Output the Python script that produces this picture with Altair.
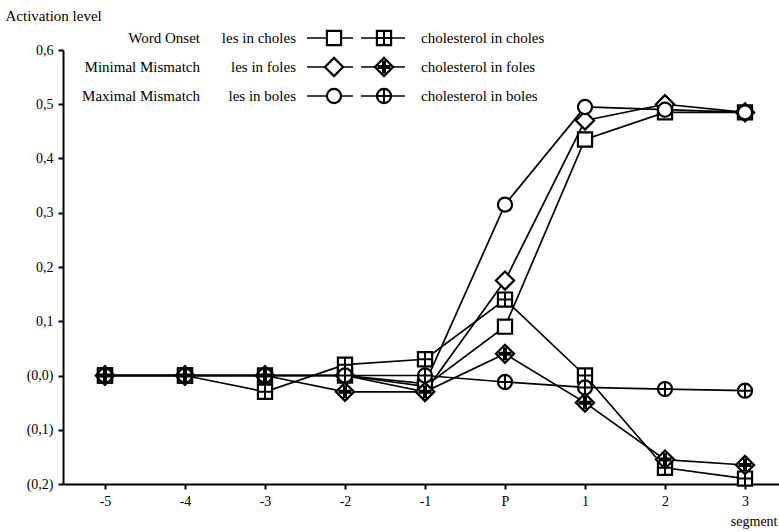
import altair as alt
import pandas as pd

segments = ["-5", "-4", "-3", "-2", "-1", "P", "1", "2", "3"]

series_names = ["les in choles", "les in foles", "les in boles",
                "cholesterol in choles", "cholesterol in foles", "cholesterol in boles"]
series_shapes = ["square", "diamond", "circle", "square", "diamond", "circle"]
series_crossed = [False, False, False, True, True, True]

les_choles = [0.0, 0.0, 0.0, 0.0, -0.02, 0.09, 0.435, 0.485, 0.485]
les_foles = [0.0, 0.0, 0.0, 0.0, -0.03, 0.175, 0.47, 0.50, 0.485]
les_boles = [0.0, 0.0, 0.0, 0.0, -0.015, 0.315, 0.495, 0.49, 0.485]
chol_choles = [0.0, 0.0, -0.03, 0.02, 0.03, 0.14, 0.0, -0.17, -0.19]
chol_foles = [0.0, 0.0, 0.0, -0.03, -0.03, 0.04, -0.05, -0.155, -0.165]
chol_boles = [0.0, 0.0, 0.0, 0.0, 0.0, -0.012, -0.022, -0.025, -0.028]
series_values = [les_choles, les_foles, les_boles, chol_choles, chol_foles, chol_boles]

conditions = ["Word Onset", "Minimal Mismatch", "Maximal Mismatch"]
targets = ["les in choles", "les in foles", "les in boles"]
chol_labels = ["cholesterol in choles", "cholesterol in foles", "cholesterol in boles"]
legend_shapes = ["square", "diamond", "circle"]

rows = []
for name, shp, crossed, vals in zip(series_names, series_shapes, series_crossed, series_values):
    for i, v in enumerate(vals):
        rows.append({"series": name, "shape": shp, "crossed": crossed, "idx": i, "value": v})
df = pd.DataFrame(rows)

leg = pd.DataFrame({"row": [0, 1, 2], "cond": conditions, "target": targets,
                    "chol": chol_labels, "shape": legend_shapes})

FONT = "Liberation Serif"
W, H = 716, 434
CROSS = "M-1,0H1M0,-1V1"

SIZE_EXPR = "datum.shape == 'square' ? 200 : (datum.shape == 'diamond' ? 330 : 200)"
CSIZE_EXPR = "datum.shape == 'square' ? 200 : (datum.shape == 'diamond' ? 170 : 190)"
CWIDTH_EXPR = "datum.shape == 'diamond' ? 4 : 2"

label_expr = "[" + ",".join("'%s'" % s for s in segments) + "][datum.value]"
y_label_expr = ("datum.value < 0.05 ? '(' + replace(format(abs(datum.value), '.1f'), '.', ',') + ')'"
                " : replace(format(datum.value, '.1f'), '.', ',')")

x_enc = alt.X("idx:Q",
              scale=alt.Scale(domain=[-0.525, 8.425], nice=False, zero=False),
              axis=alt.Axis(values=list(range(len(segments))), labelExpr=label_expr,
                            title="segment", titleAngle=0, titleAlign="right",
                            titleBaseline="middle", titleX=W - 2, titleY=37,
                            titleFont=FONT, titleFontSize=14, titleFontWeight="normal",
                            titleColor="black",
                            labelFont=FONT, labelFontSize=14, labelColor="black",
                            labelPadding=5, domainColor="black", domainWidth=2,
                            tickColor="black", tickWidth=2, tickSize=5, grid=False))
y_enc = alt.Y("value:Q",
              scale=alt.Scale(domain=[-0.2, 0.6], nice=False, zero=False),
              axis=alt.Axis(values=[-0.2, -0.1, 0.0, 0.1, 0.2, 0.3, 0.4, 0.5, 0.6],
                            labelExpr=y_label_expr,
                            title="Activation level", titleAngle=0, titleAlign="left",
                            titleBaseline="middle", titleX=-58, titleY=-35,
                            titleFont=FONT, titleFontSize=15, titleFontWeight="normal",
                            titleColor="black",
                            labelFont=FONT, labelFontSize=14, labelColor="black",
                            labelPadding=5, domainColor="black", domainWidth=2,
                            tickColor="black", tickWidth=2, tickSize=5, grid=False))

base = alt.Chart(df).transform_calculate(sz=SIZE_EXPR, csz=CSIZE_EXPR, cw=CWIDTH_EXPR)

lines = base.mark_line(color="black", strokeWidth=1.7).encode(
    x=x_enc, y=y_enc, detail="series:N")

markers = base.mark_point(filled=True, fill="white", stroke="black", strokeWidth=2.2, opacity=1).encode(
    x="idx:Q", y="value:Q",
    shape=alt.Shape("shape:N", scale=None),
    size=alt.Size("sz:Q", scale=None))

crosses = base.transform_filter("datum.crossed").mark_point(
    shape=CROSS, stroke="black", filled=False, opacity=1).encode(
    x="idx:Q", y="value:Q",
    size=alt.Size("csz:Q", scale=None),
    strokeWidth=alt.StrokeWidth("cw:Q", scale=None))

# legend drawn inside the chart
lb = alt.Chart(leg).transform_calculate(py="-12 + 29 * datum.row",
                                        sz=SIZE_EXPR, csz=CSIZE_EXPR, cw=CWIDTH_EXPR)
py = alt.Y("py:Q", scale=None)

txt_style = dict(font=FONT, fontSize=15, color="black", baseline="middle")
leg_cond = lb.mark_text(align="right", **txt_style).encode(x=alt.value(137), y=py, text="cond:N")
leg_target = lb.mark_text(align="right", **txt_style).encode(x=alt.value(233), y=py, text="target:N")
leg_chol = lb.mark_text(align="left", **txt_style).encode(x=alt.value(358), y=py, text="chol:N")
leg_line1 = lb.mark_rule(color="black", strokeWidth=1.7).encode(x=alt.value(244), x2=alt.value(290), y=py)
leg_line2 = lb.mark_rule(color="black", strokeWidth=1.7).encode(x=alt.value(298), x2=alt.value(342), y=py)
leg_m1 = lb.mark_point(filled=True, fill="white", stroke="black", strokeWidth=2.2, opacity=1).encode(
    x=alt.value(271), y=py, shape=alt.Shape("shape:N", scale=None),
    size=alt.Size("sz:Q", scale=None))
leg_m2 = lb.mark_point(filled=True, fill="white", stroke="black", strokeWidth=2.2, opacity=1).encode(
    x=alt.value(321), y=py, shape=alt.Shape("shape:N", scale=None),
    size=alt.Size("sz:Q", scale=None))
leg_c2 = lb.mark_point(shape=CROSS, stroke="black", filled=False, opacity=1).encode(
    x=alt.value(321), y=py,
    size=alt.Size("csz:Q", scale=None),
    strokeWidth=alt.StrokeWidth("cw:Q", scale=None))

chart = alt.layer(
    lines, markers, crosses,
    leg_line1, leg_line2, leg_m1, leg_m2, leg_c2, leg_cond, leg_target, leg_chol
).properties(
    width=W, height=H,
    autosize=alt.AutoSizeParams(type="none"),
    padding={"left": 63, "top": 50, "right": 0, "bottom": 48},
    background="white"
).configure_view(stroke=None)

chart.save("out.html", embed_options={"renderer": "svg", "actions": False})
